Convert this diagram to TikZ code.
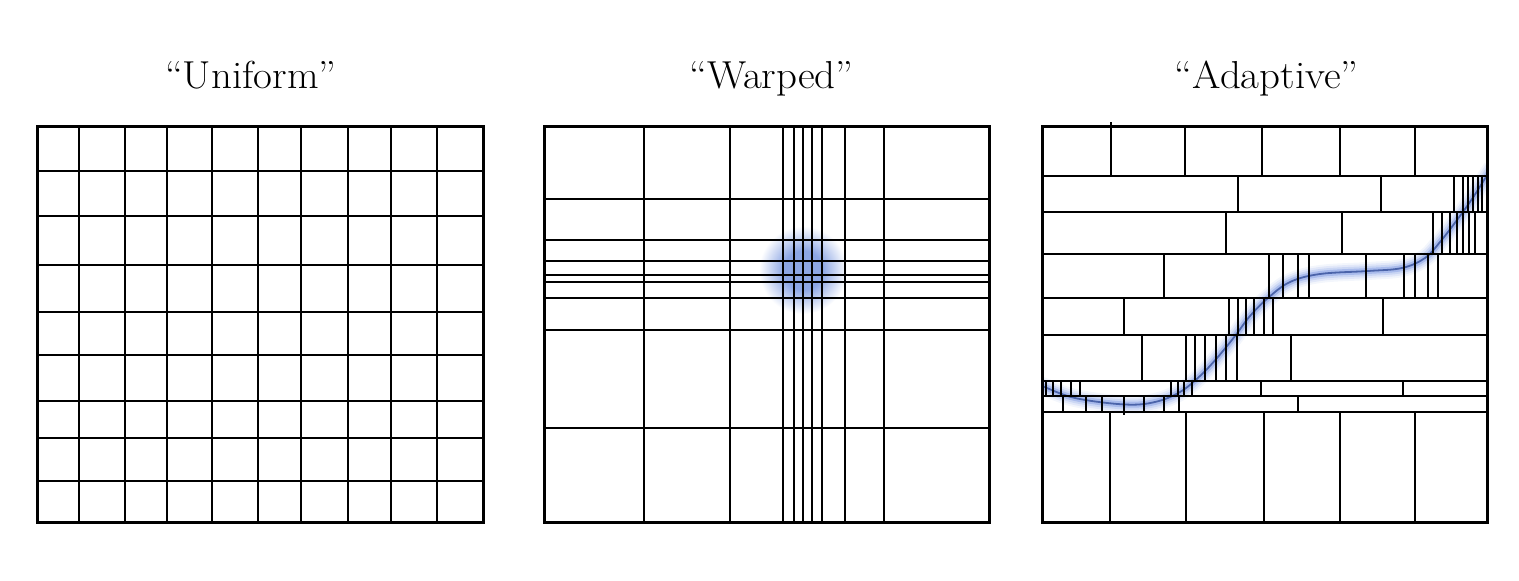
\documentclass[tikz,border=0pt]{standalone}
\definecolor{blobc}{RGB}{140,166,228}
\definecolor{glowc}{RGB}{140,165,230}
\definecolor{corec}{RGB}{75,100,170}
\pgfdeclareradialshading{blobshade}{\pgfpoint{0bp}{0bp}}{color(0bp)=(blobc); color(11bp)=(blobc); color(25bp)=(white); color(50bp)=(white)}
\begin{document}
\begin{tikzpicture}[x=1pt,y=-1pt,
  gridline/.style={line width=2pt, black},
  rowline/.style={line width=2.4pt, black},
  frame/.style={line width=3pt, black},
  title/.style={font=\fontsize{39}{44}\selectfont, anchor=base, inner sep=0pt}]
\useasboundingbox (0,0) rectangle (1519,581);

% titles
\node[title] (tu) at (250.8,88) {\scalebox{1.05}[1]{``Uniform''}};
\node[title] (tw) at (771.5,88) {\scalebox{1.05}[1]{``Warped''}};
\node[title] (ta) at (1266.7,88) {\scalebox{1.05}[1]{``Adaptive''}};

% ---------- Uniform ----------
\foreach \x in {79,124.7,167.3,211.7,258.3,301,348,391,437.3}
  \draw[gridline] (\x,126) -- (\x,522);
\foreach \y in {170.7,215.7,265,312.3,355,401,438.3,480.7}
  \draw[gridline] (37,\y) -- (483,\y);
\draw[frame] (37,126) rectangle (483,522);

% ---------- Warped ----------
\shade[shading=blobshade] (803,270) circle (44);
\foreach \x in {643.7,730.3,782.5,793.5,802.5,811.5,822,845,884}
  \draw[gridline] (\x,126) -- (\x,522);
\foreach \y in {199,240,261,274.5,282,298,330,428}
  \draw[gridline] (544,\y) -- (989,\y);
\draw[frame] (544,126) rectangle (989,522);

% ---------- Adaptive ----------
\begin{scope}
  \clip (1042,126) rectangle (1487,522);
  \foreach \w/\c in {18/glowc!10, 14/glowc!25, 10/glowc!45, 6/glowc!75, 1.8/corec}
    \draw[line width=\w pt, color=\c] plot[smooth, tension=0.6] coordinates {
      (1036,384) (1042,386) (1075,398) (1125,404.5) (1155,402) (1180,392) (1200,376)
      (1217,358) (1235,336) (1250,316) (1268,298) (1290,282) (1320,274)
      (1368,271) (1402,268) (1425,258) (1440,242) (1457,220) (1472,199)
      (1486,177) (1492,168)};
\end{scope}
\foreach \y in {176,212,254,298,335,381,396,412}
  \draw[rowline] (1042,\y) -- (1487,\y);
\foreach \ya/\yb/\xs in {
  126/176/{1185,1261.7,1340.3,1415.3},
  176/212/{1238.3,1380.7,1453.7,1462.7,1468.3,1473.3,1478.3,1482},
  212/254/{1225.7,1342.3,1433,1442,1450,1457,1463,1469,1475},
  254/298/{1163.7,1269,1283.3,1298.3,1309.3,1366.3,1404,1415,1427.7,1438.3},
  298/335/{1124,1229.3,1238.3,1246,1254.3,1263.7,1273.3,1383.3},
  335/381/{1142,1186,1195,1205.3,1216,1226.3,1236.7,1290.7},
  381/396/{1046.3,1053,1061.2,1070.7,1080,1171,1177.5,1184,1191.5,1261.3,1403.3},
  396/412/{1063.3,1085.7,1101.7,1144.3,1164.3,1179.3,1298.3},
  412/522/{1109.7,1185.7,1263.7,1340.3,1415.3}}
  { \foreach \x in \xs { \draw[gridline] (\x,\ya) -- (\x,\yb); } }
\draw[gridline] (1111,122) -- (1111,176);
\draw[gridline] (1124,396) -- (1124,415);
\draw[frame] (1042,126) rectangle (1487,522);
\end{tikzpicture}
\end{document}
